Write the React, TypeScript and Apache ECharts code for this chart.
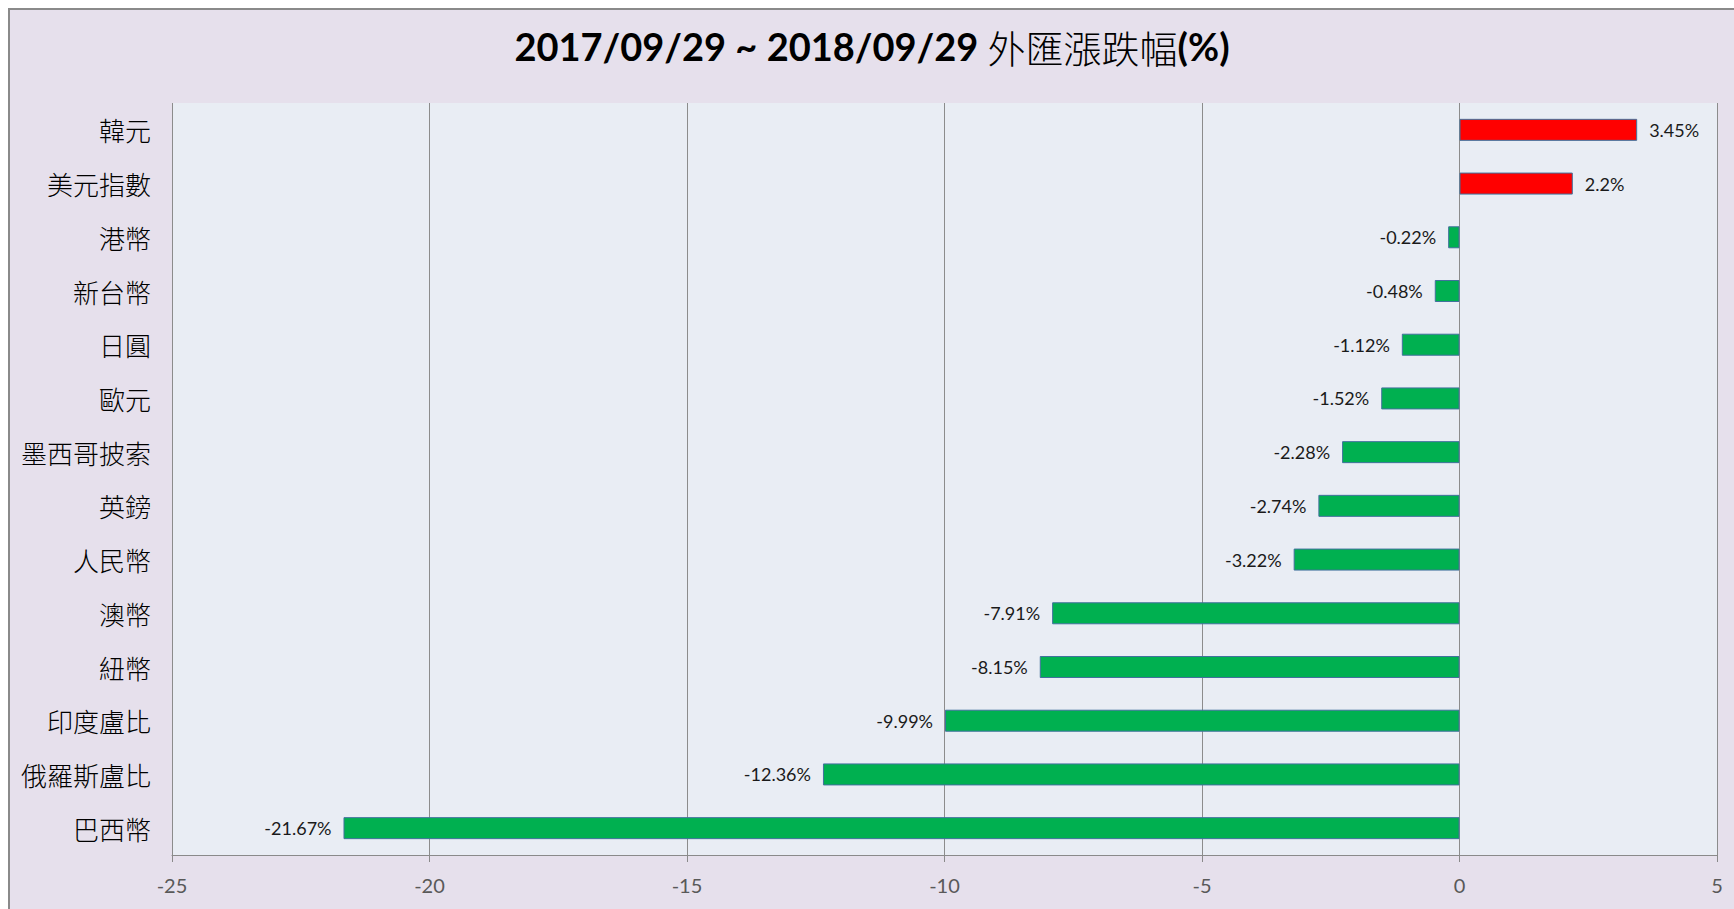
import React, { useEffect, useRef } from "react";
import * as echarts from "echarts";

const categories = [
  "韓元", "美元指數", "港幣", "新台幣", "日圓", "歐元", "墨西哥披索",
  "英鎊", "人民幣", "澳幣", "紐幣", "印度盧比", "俄羅斯盧比", "巴西幣",
];
const changes = [
  3.45, 2.2, -0.22, -0.48, -1.12, -1.52, -2.28, -2.74, -3.22, -7.91, -8.15, -9.99, -12.36, -21.67,
];
const axisMin = -25;
const axisMax = 5;
const axisStep = 5;
const titleDates = "2017/09/29 ~ 2018/09/29 ";
const titleWords = "外匯漲跌幅";
const titleUnit = "(%)";

export default function App() {
  const ref = useRef<HTMLDivElement>(null);
  useEffect(() => {
    if (!ref.current) return;
    const chart = echarts.init(ref.current, undefined, { renderer: "svg" });
    chart.setOption({
      animation: false,
      backgroundColor: "#E6E0EC",
      title: {
        left: "center",
        top: 12,
        text: `{a|${titleDates}}{b|${titleWords}}{a|${titleUnit}}`,
        textStyle: {
          rich: {
            a: { fontFamily: "Lato", fontWeight: "bold", fontSize: 38, color: "#000" },
            b: { fontFamily: "Noto Sans CJK TC", fontWeight: 300, fontSize: 38, color: "#000" },
          },
        },
      },
      grid: {
        left: 162,
        top: 93,
        width: 1545,
        height: 752,
        show: true,
        backgroundColor: "#E9EDF4",
        borderWidth: 0,
        containLabel: false,
      },
      xAxis: {
        type: "value",
        min: axisMin,
        max: axisMax,
        interval: axisStep,
        position: "bottom",
        axisLine: { show: true, onZero: false, lineStyle: { color: "#8A8A8A", width: 1 } },
        axisTick: { show: true, length: 7, lineStyle: { color: "#8A8A8A" } },
        splitLine: { show: true, lineStyle: { color: "#8C8C8C", width: 1 } },
        axisLabel: { fontFamily: "Lato", fontSize: 20, color: "#595959", margin: 20 },
      },
      yAxis: {
        type: "category",
        data: categories,
        inverse: true,
        axisLine: { show: false },
        axisTick: { show: false },
        splitLine: { show: false },
        axisLabel: { fontFamily: "Noto Sans CJK TC", fontWeight: 300, fontSize: 26, color: "#000", margin: 21 },
      },
      series: [
        {
          type: "bar",
          barWidth: 22,
          data: changes.map((v) => ({
            value: v,
            itemStyle: { color: v >= 0 ? "#FF0000" : "#00B050" },
            label: { position: v >= 0 ? "right" : "left" },
          })),
          itemStyle: { borderColor: "#41719C", borderWidth: 1 },
          label: {
            show: true,
            distance: 12,
            formatter: "{c}%",
            fontFamily: "Lato",
            fontSize: 18,
            color: "#1A1A1A",
          },
        },
      ],
    });
    return () => chart.dispose();
  }, []);
  return (
    <div
      style={{
        position: "fixed",
        left: 8,
        top: 8,
        width: 1726,
        height: 901,
        boxSizing: "border-box",
        borderLeft: "2px solid #8A8A8A",
        borderTop: "2px solid #8A8A8A",
        background: "#E6E0EC",
      }}
    >
      <div ref={ref} style={{ width: 1724, height: 899 }} />
    </div>
  );
}
